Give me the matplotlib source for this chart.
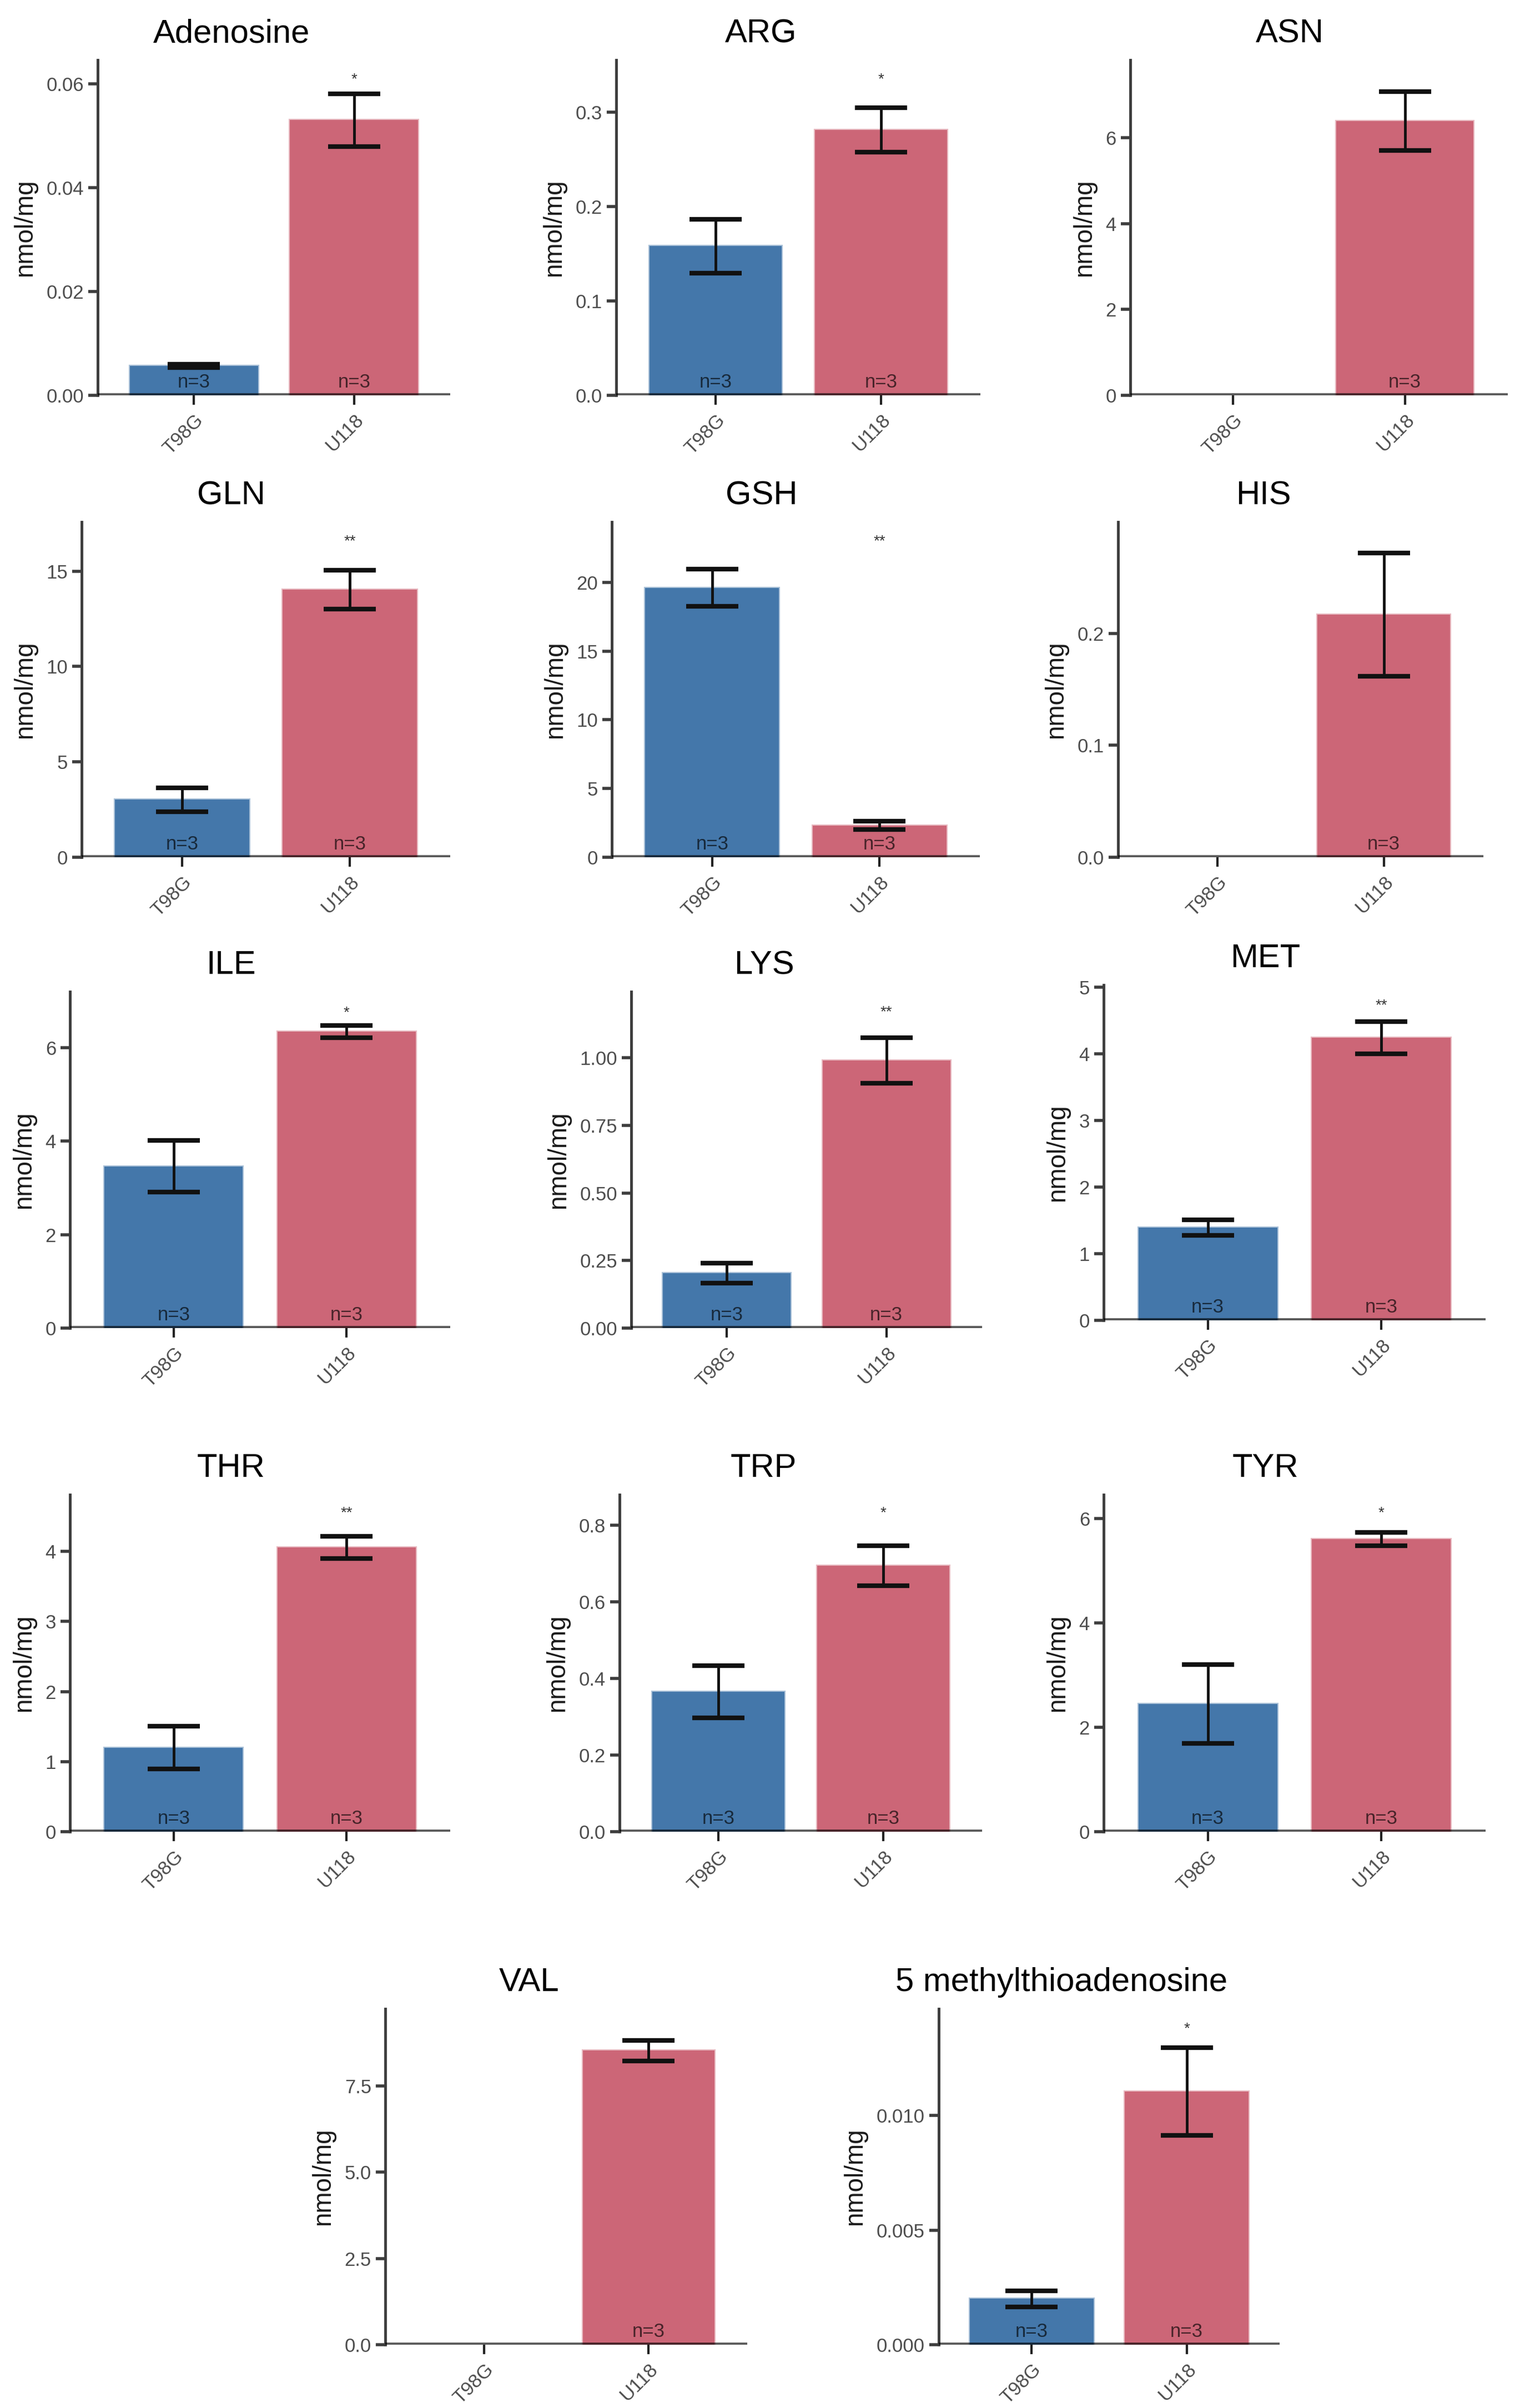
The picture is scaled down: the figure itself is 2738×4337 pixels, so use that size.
import numpy as np
import matplotlib
matplotlib.use('Agg')
from matplotlib import pyplot as plt
from matplotlib.ticker import MultipleLocator, FormatStrFormatter
from matplotlib.colors import to_rgba

plt.rcParams['font.family'] = ['Liberation Sans', 'DejaVu Sans']

# data (mean and standard error, nmol/mg)
metabolites = ['Adenosine', 'ARG', 'ASN', 'GLN', 'GSH', 'HIS', 'ILE', 'LYS',
               'MET', 'THR', 'TRP', 'TYR', 'VAL', '5 methylthioadenosine']
groups = ['T98G', 'U118']

t98g_mean = [0.0057, 0.158, 0.0, 3.02, 19.6, 0.0, 3.46, 0.2035,
             1.39, 1.20, 0.3655, 2.445, 0.0, 0.0020]
t98g_se = [0.0003, 0.0286, 0.0, 0.62, 1.355, 0.0, 0.555, 0.0365,
           0.12, 0.308, 0.0685, 0.755, 0.0, 0.000345]
u118_mean = [0.0530, 0.281, 6.39, 14.03, 2.31, 0.2167, 6.34, 0.9905,
             4.24, 4.06, 0.694, 5.61, 8.53, 0.01104]
u118_se = [0.0051, 0.0234, 0.685, 1.025, 0.30, 0.055, 0.13, 0.0845,
           0.24, 0.158, 0.052, 0.13, 0.30, 0.00192]
t98g_n = [3, 3, 0, 3, 3, 0, 3, 3, 3, 3, 3, 3, 0, 3]
u118_n = [3, 3, 3, 3, 3, 3, 3, 3, 3, 3, 3, 3, 3, 3]

signif = ['*', '*', '', '**', '**', '', '*', '**', '**', '**', '*', '*', '', '*']
signif_y = [0.0608, 0.3346, np.nan, 16.56, 22.97, np.nan, 6.75, 1.168,
            4.72, 4.55, 0.832, 6.11, np.nan, 0.01378]

# y axis range and ticks
y_top = [0.0646, 0.355, 7.81, 17.58, 24.39, 0.2995, 7.2, 1.245,
         5.03, 4.81, 0.880, 6.46, 9.74, 0.01465]
y_step = [0.02, 0.1, 2, 5, 5, 0.1, 2, 0.25, 1, 1, 0.2, 2, 2.5, 0.005]
y_dec = [2, 1, 0, 0, 0, 1, 0, 2, 0, 0, 1, 0, 1, 3]

W, H = 2738, 4337
# panel boxes in pixels: left, right, top, bottom
boxes = [
    (176, 811, 108, 712), (1110, 1766, 108, 712), (2036, 2716, 108, 712),
    (147, 811, 940, 1544), (1102, 1765, 940, 1544), (2014, 2672, 940, 1544),
    (126, 811, 1786, 2392), (1137, 1769, 1786, 2392), (1988, 2676, 1774, 2378),
    (126, 811, 2692, 3299), (1116, 1769, 2692, 3299), (1988, 2676, 2692, 3299),
    (694, 1346, 3618, 4223), (1691, 2305, 3618, 4223),
]

blue = '#4477AA'
red = '#CC6677'
tick_col = '#4D4D4D'
line_col = '#3d3d3d'

fig = plt.figure(figsize=(W / 100, H / 100), dpi=100)
axes = []

for i, name in enumerate(metabolites):
    l, r, t, b = boxes[i]
    ax = fig.add_axes([l / W, 1 - b / H, (r - l) / W, (b - t) / H])
    axes.append(ax)

    x = np.arange(1, 3)
    means = [t98g_mean[i], u118_mean[i]]
    ses = [t98g_se[i], u118_se[i]]
    ns = [t98g_n[i], u118_n[i]]
    cols = [blue, red]
    edge_a = [0.45 if m > 0 else 0 for m in means]

    ax.bar(x, means, width=0.8,
           color=cols,
           edgecolor=[to_rgba(c, a) for c, a in zip(cols, edge_a)],
           linewidth=3, zorder=2)
    # the zero line sits over the bars, semi-transparent
    ax.axhline(0, color='black', alpha=0.65, lw=5.5, zorder=3)

    for xi, m, s, n in zip(x, means, ses, ns):
        if n == 0:
            continue
        ax.errorbar(xi, m, yerr=s, fmt='none', ecolor='#111111',
                    elinewidth=3.5, capsize=34, capthick=6, zorder=4)
        ax.annotate('n=%d' % n, (xi, 0), xytext=(0, 5), textcoords='offset points',
                    ha='center', va='bottom', fontsize=25, color='black',
                    alpha=0.65, zorder=5)

    if signif[i]:
        ax.text(2, signif_y[i], signif[i], ha='center', va='center',
                fontsize=20, color='#333333', zorder=5)

    ax.set_xlim(0.4, 2.6)
    ax.set_ylim(0, y_top[i])
    ax.yaxis.set_major_locator(MultipleLocator(y_step[i]))
    ax.yaxis.set_major_formatter(FormatStrFormatter('%.' + str(y_dec[i]) + 'f'))
    ax.set_xticks(x, groups, rotation=45, ha='right', rotation_mode='anchor')

    for side in ['top', 'right', 'bottom']:
        ax.spines[side].set_visible(False)
    ax.spines['left'].set_color(line_col)
    ax.spines['left'].set_linewidth(3.5)

    ax.tick_params(axis='y', length=12, width=4, color=line_col,
                   labelsize=25, labelcolor=tick_col, pad=6)
    ax.tick_params(axis='x', length=12, width=3, color='#222222',
                   labelsize=25, labelcolor=tick_col, pad=8)
    ax.set_ylabel('nmol/mg', fontsize=33, labelpad=12, color='#1a1a1a')

# centre each title over the y label and the panel, like the original plots
fig.canvas.draw()
renderer = fig.canvas.get_renderer()
for ax, name in zip(axes, metabolites):
    lab = ax.yaxis.label.get_window_extent(renderer)
    box = ax.get_window_extent(renderer)
    cx = ((lab.x0 + box.x1) / 2 - box.x0) / box.width
    ax.set_title(name, fontsize=43, pad=23, x=cx, color='black')

fig.savefig('out.png', dpi=100)
